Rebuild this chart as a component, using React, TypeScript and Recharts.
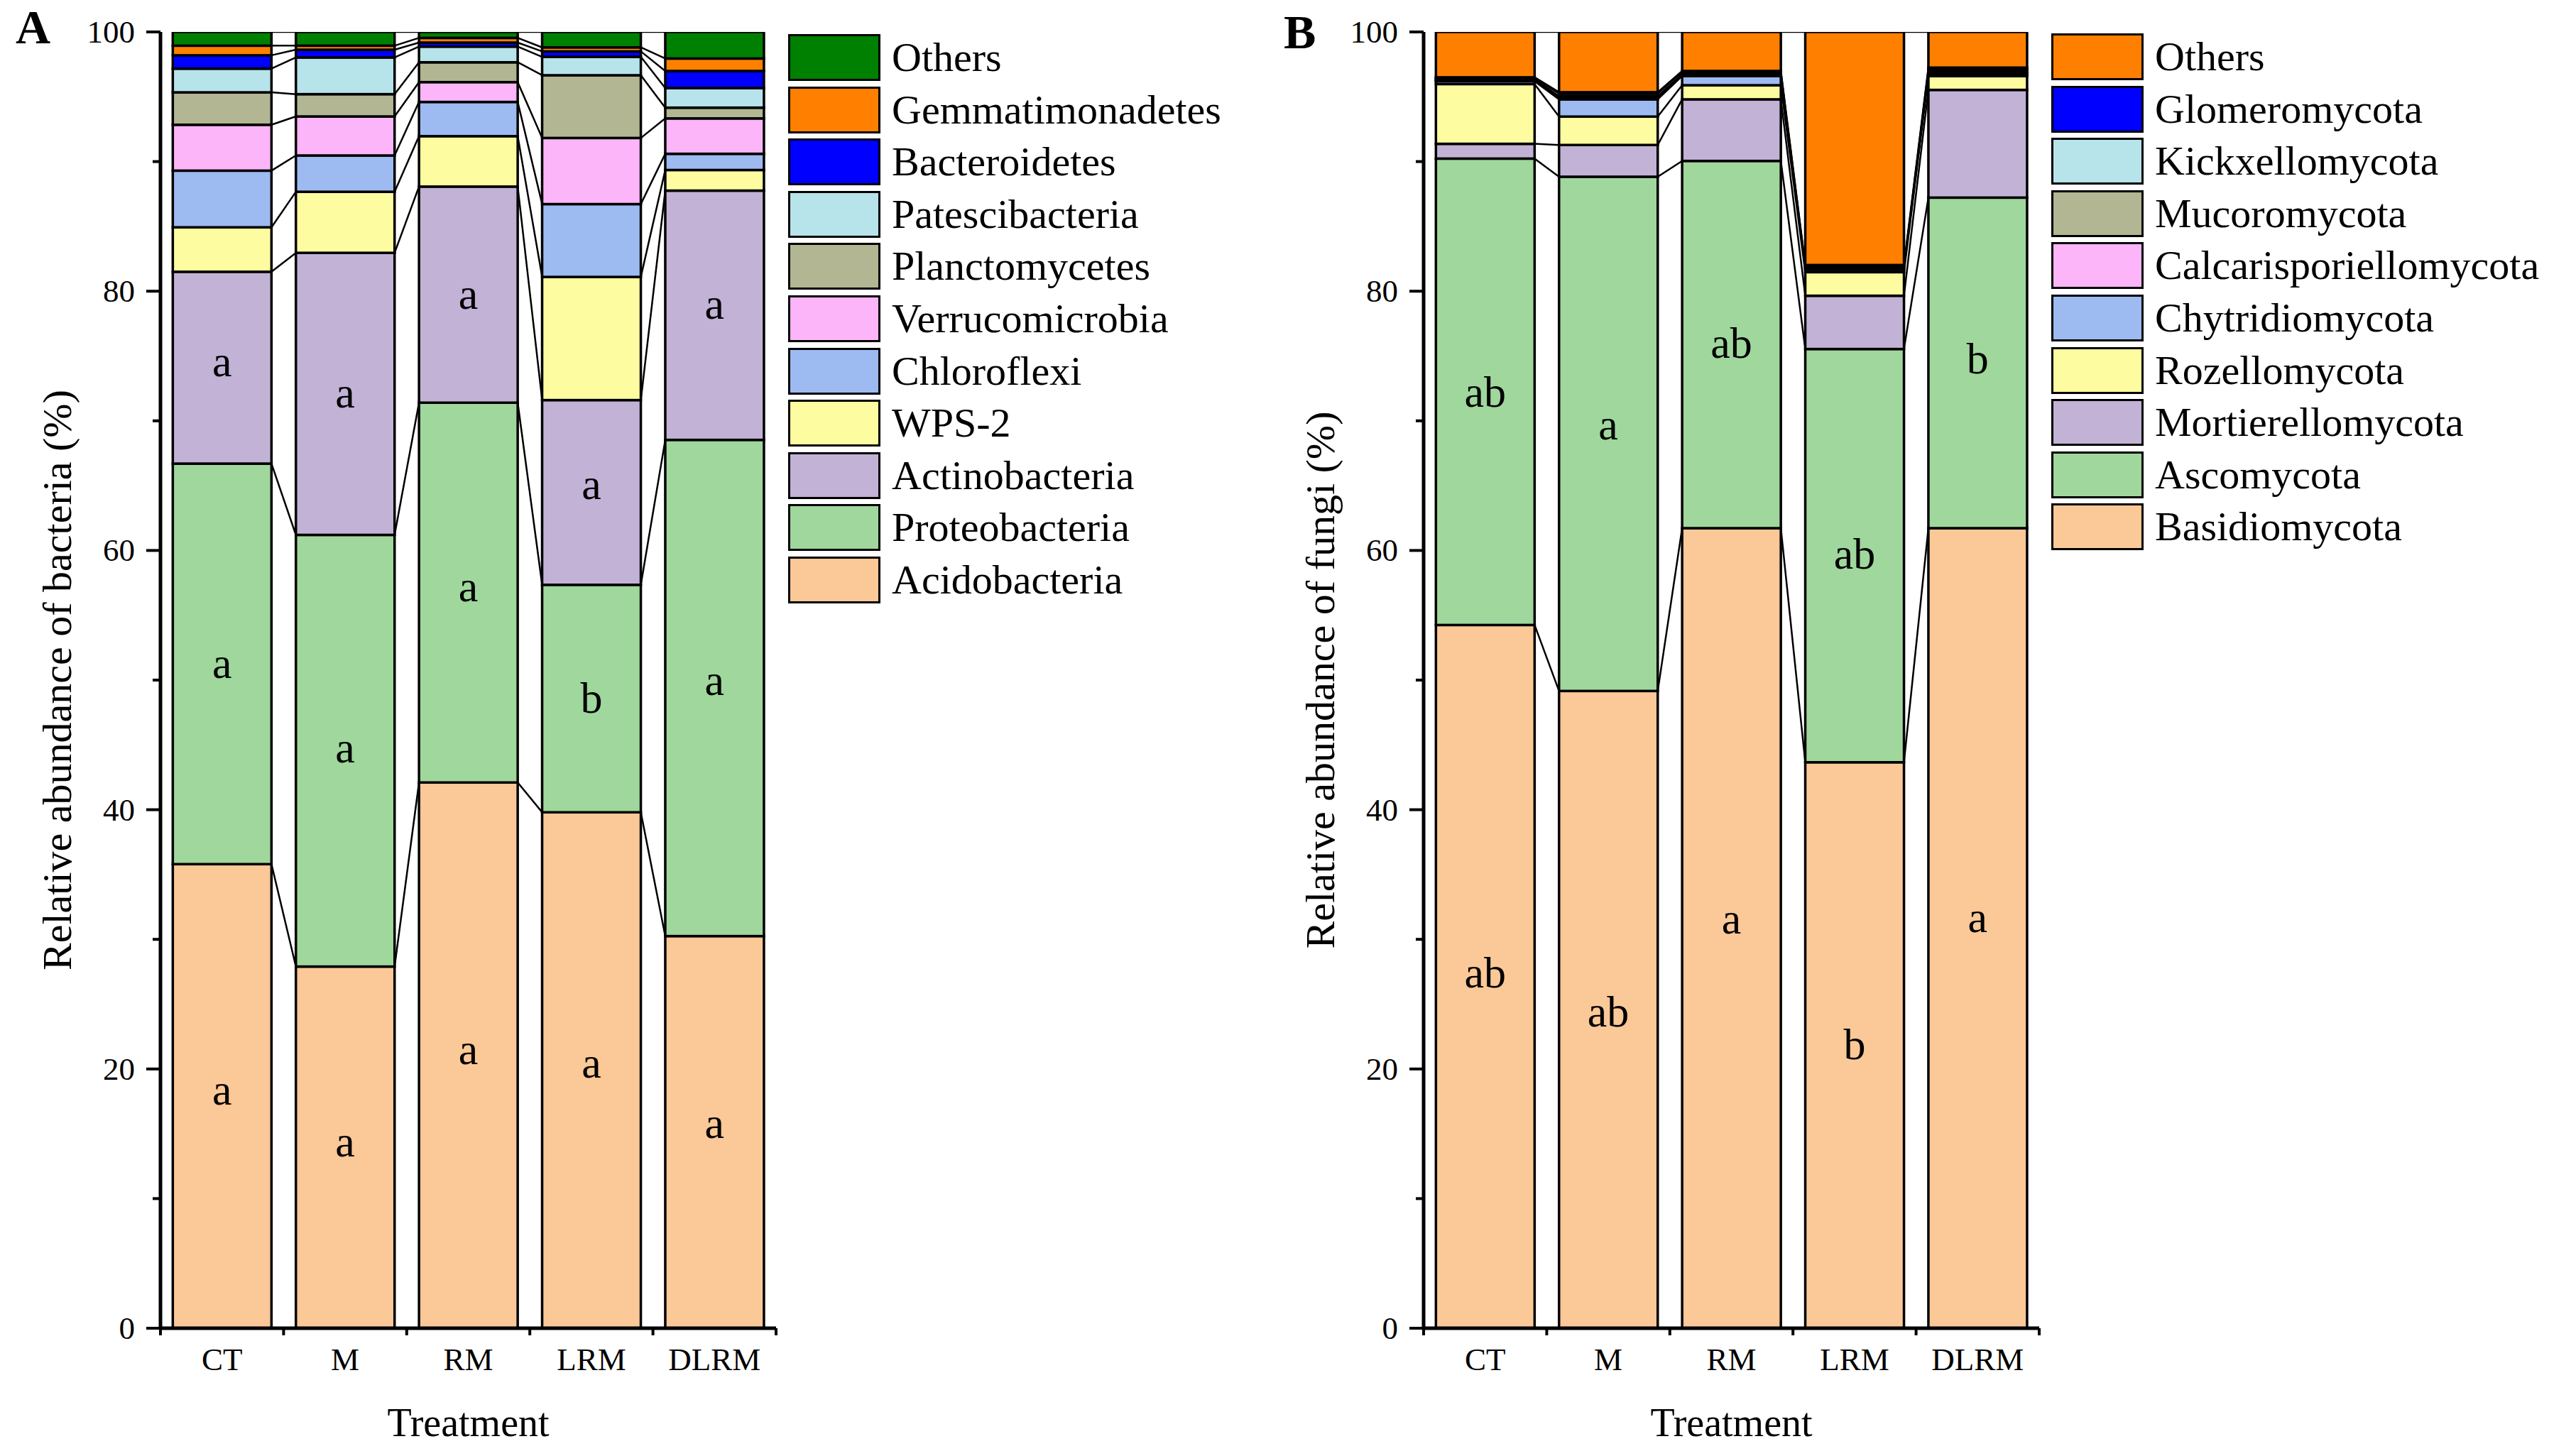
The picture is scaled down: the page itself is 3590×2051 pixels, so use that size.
import React from "react";
import { BarChart, Bar, XAxis, YAxis, Legend, ReferenceDot } from "recharts";

const FONT = "'Liberation Serif', 'Times New Roman', Times, serif";

const treatments = ["CT", "M", "RM", "LRM", "DLRM"];

// bacteria, relative abundance (%), stacked bottom -> top
const acidobacteria = [35.8, 27.9, 42.1, 39.8, 30.25];
const proteobacteria = [30.9, 33.3, 29.3, 17.55, 38.28];
const actinobacteria = [14.8, 21.76, 16.67, 14.25, 19.23];
const wps2 = [3.43, 4.71, 3.89, 9.5, 1.59];
const chloroflexi = [4.37, 2.8, 2.64, 5.62, 1.25];
const verrucomicrobia = [3.54, 3.01, 1.53, 5.1, 2.73];
const planctomycetes = [2.5, 1.72, 1.53, 4.84, 0.83];
const patescibacteria = [1.83, 2.83, 1.21, 1.42, 1.51];
const bacteroidetes = [1.03, 0.6, 0.31, 0.42, 1.32];
const gemmatimonadetes = [0.74, 0.31, 0.36, 0.31, 0.96];
const bacteriaOthers = [1.06, 1.06, 0.46, 1.19, 2.05];

// fungi, relative abundance (%), stacked bottom -> top
const basidiomycota = [54.25, 49.16, 61.72, 43.66, 61.72];
const ascomycota = [35.98, 39.67, 28.33, 31.88, 25.5];
const mortierellomycota = [1.14, 2.45, 4.75, 4.11, 8.31];
const rozellomycota = [4.61, 2.19, 1.09, 1.82, 1.06];
const chytridiomycota = [0.22, 1.33, 0.71, 0.2, 0.15];
const calcarisporiellomycota = [0.08, 0.15, 0.08, 0.06, 0.1];
const mucoromycota = [0.06, 0.1, 0.08, 0.08, 0.12];
const kickxellomycota = [0.1, 0.2, 0.15, 0.11, 0.17];
const glomeromycota = [0.06, 0.1, 0.08, 0.1, 0.12];
const fungiOthers = [3.5, 4.65, 3.01, 17.98, 2.75];

// significance letters and the height (%) where they are printed
const bacActinoLetters = ["a", "a", "a", "a", "a"];
const bacActinoAt = [74.2, 71.8, 79.4, 64.7, 78.6];
const bacProteoLetters = ["a", "a", "a", "b", "a"];
const bacProteoAt = [50.9, 44.4, 56.8, 48.6, 49.6];
const bacAcidoLetters = ["a", "a", "a", "a", "a"];
const bacAcidoAt = [18.0, 14.0, 21.1, 20.1, 15.4];

const funAscoLetters = ["ab", "a", "ab", "ab", "b"];
const funAscoAt = [72.2, 69.3, 76.0, 59.7, 74.8];
const funBasidLetters = ["ab", "ab", "a", "b", "a"];
const funBasidAt = [27.4, 24.4, 31.2, 21.9, 31.3];

const bacteriaNames = [
  "Acidobacteria", "Proteobacteria", "Actinobacteria", "WPS-2", "Chloroflexi",
  "Verrucomicrobia", "Planctomycetes", "Patescibacteria", "Bacteroidetes",
  "Gemmatimonadetes", "Others",
];
const bacteriaValues = [
  acidobacteria, proteobacteria, actinobacteria, wps2, chloroflexi, verrucomicrobia,
  planctomycetes, patescibacteria, bacteroidetes, gemmatimonadetes, bacteriaOthers,
];
const bacteriaColors = [
  "#FBC898", "#9FD79C", "#C2B2D6", "#FEFCA0", "#9DBBF1", "#FCB5F8",
  "#B2B692", "#B6E4EA", "#0000FF", "#FF8000", "#008000",
];

const fungiNames = [
  "Basidiomycota", "Ascomycota", "Mortierellomycota", "Rozellomycota", "Chytridiomycota",
  "Calcarisporiellomycota", "Mucoromycota", "Kickxellomycota", "Glomeromycota", "Others",
];
const fungiValues = [
  basidiomycota, ascomycota, mortierellomycota, rozellomycota, chytridiomycota,
  calcarisporiellomycota, mucoromycota, kickxellomycota, glomeromycota, fungiOthers,
];
const fungiColors = [
  "#FBC898", "#9FD79C", "#C2B2D6", "#FEFCA0", "#9DBBF1",
  "#FCB5F8", "#B2B692", "#B6E4EA", "#0000FF", "#FF8000",
];

const yTicks = [0, 10, 20, 30, 40, 50, 60, 70, 80, 90, 100];

// layout
const CHART_W = 1811;
const CHART_H = 2051;
const MARGIN = { top: 45, right: 718, bottom: 0, left: 126 };
const Y_W = 100;
const X_H = 180;
const BAND = (CHART_W - MARGIN.left - MARGIN.right - Y_W) / treatments.length;
const ROW = 73.6;

function buildRows(names: string[], values: number[][]) {
  return treatments.map((t, i) => {
    const row: Record<string, any> = { name: t };
    names.forEach((n, k) => (row[n] = values[k][i]));
    return row;
  });
}

// segment with black border + Origin style connector to the next stack
function stackShape(values: number[][], k: number) {
  return (props: any) => {
    const { x, y, width, height, fill, payload } = props;
    const i = props.index ?? treatments.indexOf(payload?.name);
    const cum = (j: number) => values.slice(0, k + 1).reduce((s, arr) => s + arr[j], 0);
    const val = values[k][i];
    const px = val > 0 ? height / val : 0;
    const zeroY = y + cum(i) * px;
    const hasNext = i < treatments.length - 1;
    const nextY = hasNext ? zeroY - cum(i + 1) * px : 0;
    return (
      <g>
        <rect x={x} y={y} width={width} height={height} fill={fill} stroke="#000" strokeWidth={3.5} />
        {hasNext && (
          <line x1={x + width} y1={y} x2={x + BAND} y2={nextY} stroke="#000" strokeWidth={2.5} />
        )}
      </g>
    );
  };
}

function YTick(props: any) {
  const { x, y, payload } = props;
  const v = payload.value;
  const major = v % 20 === 0;
  return (
    <g>
      <line x1={x - (major ? 20 : 11)} y1={y} x2={x} y2={y} stroke="#000" strokeWidth={4} />
      {major && (
        <text x={x - 36} y={y + 15} textAnchor="end" fontFamily={FONT} fontSize={45} fill="#000">
          {v}
        </text>
      )}
    </g>
  );
}

function XTick(props: any) {
  const { x, y, payload, index } = props;
  const last = index === treatments.length - 1;
  return (
    <g>
      <line x1={x - BAND / 2} y1={y} x2={x - BAND / 2} y2={y + 10} stroke="#000" strokeWidth={4} />
      {last && <line x1={x + BAND / 2} y1={y} x2={x + BAND / 2} y2={y + 10} stroke="#000" strokeWidth={4} />}
      <text x={x} y={y + 59} textAnchor="middle" fontFamily={FONT} fontSize={45} fill="#000">
        {payload.value}
      </text>
    </g>
  );
}

function LegendBox({ names, colors }: { names: string[]; colors: string[] }) {
  const items = names.map((n, k) => ({ n, c: colors[k] })).reverse();
  return (
    <div style={{ position: "relative", width: 700, height: items.length * ROW }}>
      {items.map((it, i) => (
        <div
          key={it.n}
          style={{ position: "absolute", left: 0, top: i * ROW, height: 66, display: "flex", alignItems: "center" }}
        >
          <div style={{ width: 130, height: 66, boxSizing: "border-box", border: "3.5px solid #000", background: it.c }} />
          <span
            style={{ marginLeft: 16, fontFamily: FONT, fontSize: 58, lineHeight: "66px", color: "#000", whiteSpace: "nowrap" }}
          >
            {it.n}
          </span>
        </div>
      ))}
    </div>
  );
}

type Letters = { text: string[]; at: number[] };

function Panel({
  names, values, colors, yTitle, letters, legendTop,
}: {
  names: string[]; values: number[][]; colors: string[]; yTitle: string; letters: Letters[]; legendTop: number;
}) {
  const rows = buildRows(names, values);
  return (
    <BarChart width={CHART_W} height={CHART_H} data={rows} margin={MARGIN} barCategoryGap="10%">
      <XAxis
        dataKey="name"
        height={X_H}
        interval={0}
        tickSize={0}
        tickMargin={0}
        tickLine={false}
        axisLine={{ stroke: "#000", strokeWidth: 5 }}
        tick={<XTick />}
        label={{
          content: (p: any) => {
            const vb = p.viewBox;
            return (
              <text x={vb.x + vb.width / 2} y={vb.y + 152} textAnchor="middle" fontFamily={FONT} fontSize={56} fill="#000">
                Treatment
              </text>
            );
          },
        }}
      />
      <YAxis
        type="number"
        domain={[0, 100]}
        allowDataOverflow
        ticks={yTicks}
        interval={0}
        width={Y_W}
        tickSize={0}
        tickMargin={0}
        tickLine={false}
        axisLine={{ stroke: "#000", strokeWidth: 5 }}
        tick={<YTick />}
        label={{
          content: (p: any) => {
            const vb = p.viewBox;
            const cx = vb.x + vb.width - 126;
            const cy = vb.y + vb.height / 2;
            return (
              <text
                x={cx}
                y={cy}
                transform={`rotate(-90 ${cx} ${cy})`}
                textAnchor="middle"
                fontFamily={FONT}
                fontSize={58}
                fill="#000"
              >
                {yTitle}
              </text>
            );
          },
        }}
      />
      <Legend
        layout="horizontal"
        verticalAlign="middle"
        align="center"
        wrapperStyle={{ left: 1110, top: legendTop, width: 700, height: names.length * ROW }}
        content={() => <LegendBox names={names} colors={colors} />}
      />
      {names.map((n, k) => (
        <Bar
          key={n}
          dataKey={n}
          stackId="s"
          fill={colors[k]}
          isAnimationActive={false}
          shape={stackShape(values, k)}
        />
      ))}
      {letters.map((l, li) =>
        treatments.map((t, i) => (
          <ReferenceDot
            key={`${li}-${t}`}
            x={t}
            y={l.at[i]}
            r={1}
            fill="none"
            stroke="none"
            shape={(p: any) => (
              <text
                x={p.cx}
                y={p.cy + (l.text[i].includes("b") ? 0.33 : 0.22) * 62}
                textAnchor="middle"
                fontFamily={FONT}
                fontSize={62}
                fill="#000"
              >
                {l.text[i]}
              </text>
            )}
          />
        ))
      )}
    </BarChart>
  );
}

export default function App() {
  return (
    <div
      style={{ position: "absolute", left: 0, top: 0, width: 3590, height: 2051, background: "#fff", overflow: "hidden" }}
    >
      <svg width={3590} height={2051} style={{ position: "absolute", left: 0, top: 0 }}>
        <text x={22} y={61} fontFamily={FONT} fontWeight="bold" fontSize={68} fill="#000">A</text>
        <text x={1808} y={68} fontFamily={FONT} fontWeight="bold" fontSize={68} fill="#000">B</text>
      </svg>
      <div style={{ position: "absolute", left: 0, top: 0 }}>
        <Panel
          names={bacteriaNames}
          values={bacteriaValues}
          colors={bacteriaColors}
          yTitle="Relative abundance of bacteria (%)"
          legendTop={48}
          letters={[
            { text: bacActinoLetters, at: bacActinoAt },
            { text: bacProteoLetters, at: bacProteoAt },
            { text: bacAcidoLetters, at: bacAcidoAt },
          ]}
        />
      </div>
      <div style={{ position: "absolute", left: 1779, top: 0 }}>
        <Panel
          names={fungiNames}
          values={fungiValues}
          colors={fungiColors}
          yTitle="Relative abundance of fungi (%)"
          legendTop={47}
          letters={[
            { text: funAscoLetters, at: funAscoAt },
            { text: funBasidLetters, at: funBasidAt },
          ]}
        />
      </div>
    </div>
  );
}
